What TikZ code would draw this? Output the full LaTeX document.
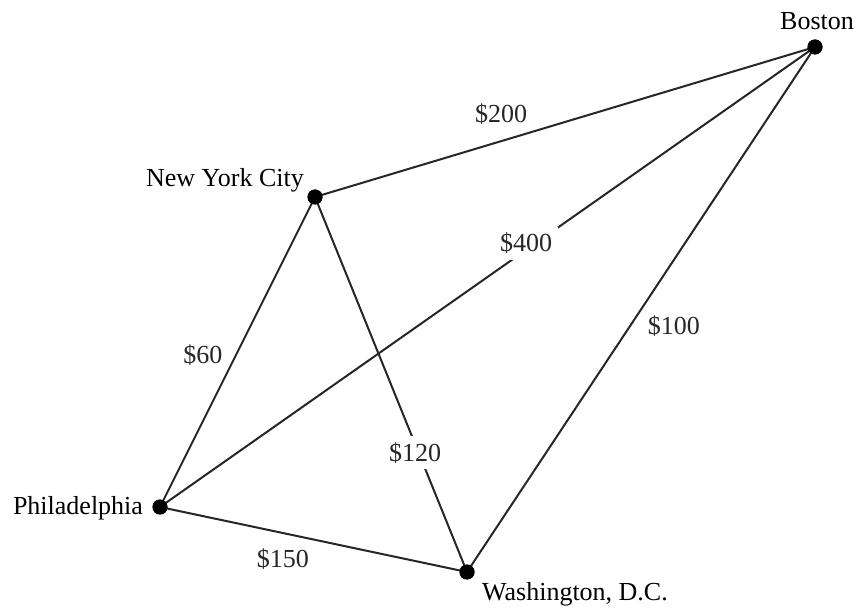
\documentclass[tikz,border=0pt]{standalone}
\usepackage{fontspec}
\setmainfont{Liberation Serif}
\tikzset{
  city/.style={circle, fill=black, inner sep=0pt, minimum size=15pt},
  citylabel/.style={anchor=base, inner sep=0pt, font=\fontsize{26}{30}\selectfont},
  road/.style={line width=2pt, black!85},
  cost/.style={anchor=base, inner sep=0pt, font=\fontsize{26}{30}\selectfont, text=black!85},
  costgap/.style={cost, fill=white, inner sep=6pt}
}
\begin{document}
\begin{tikzpicture}[x=1pt,y=-1pt]
\useasboundingbox (0,0) rectangle (857,609);
\node[city] (bos) at (815,47) {};
\node[city] (nyc) at (315,197) {};
\node[city] (phl) at (160,507) {};
\node[city] (was) at (467,572) {};

\node[citylabel] (bosl) at (817,30) {Boston};
\node[citylabel] (nycl) at (225,187) {New York City};
\node[citylabel] (phll) at (78,514) {Philadelphia};
\node[citylabel] (wasl) at (575,600) {Washington, D.C.};

\draw[road] (nyc.center) -- node[cost, pos=0.374, xshift=-1pt, yshift=18pt] {\$200} (bos.center);
\draw[road] (phl.center) -- node[costgap, pos=0.559, yshift=-2pt] {\$400} (bos.center);
\draw[road] (bos.center) -- node[cost, pos=0.529, xshift=43pt, yshift=-10pt] {\$100} (was.center);
\draw[road] (nyc.center) -- node[cost, pos=0.51, xshift=-33pt, yshift=-8pt] {\$60} (phl.center);
\draw[road] (nyc.center) -- node[costgap, pos=0.678, xshift=-3pt, yshift=-10pt] {\$120} (was.center);
\draw[road] (phl.center) -- node[cost, pos=0.40, yshift=-34pt] {\$150} (was.center);

\node[city] at (bos) {};
\node[city] at (nyc) {};
\node[city] at (phl) {};
\node[city] at (was) {};
\end{tikzpicture}
\end{document}
